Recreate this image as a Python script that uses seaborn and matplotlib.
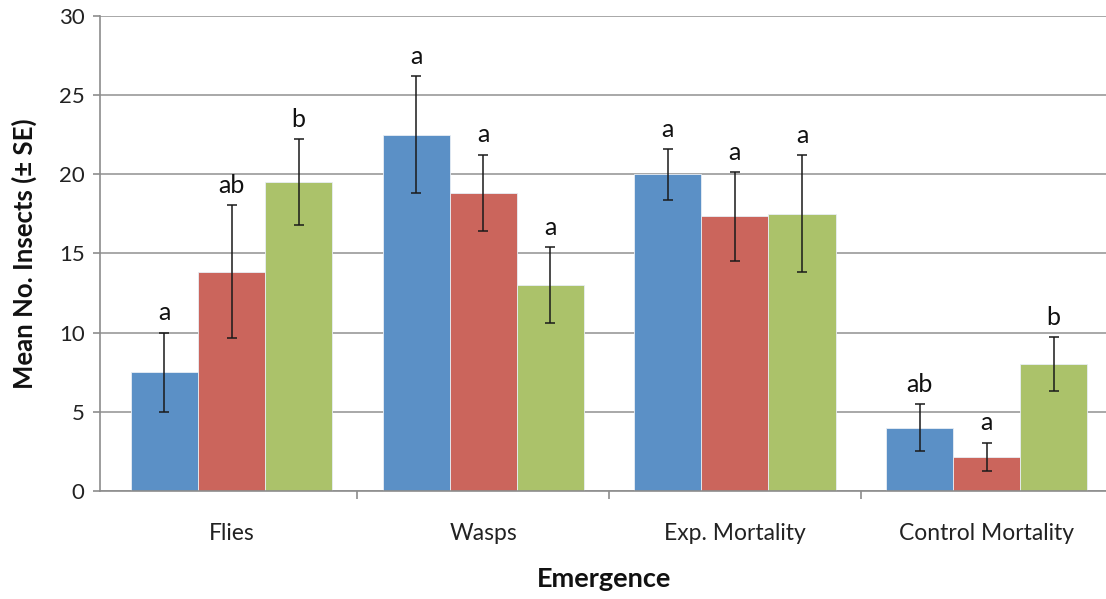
import pandas as pd
import matplotlib
matplotlib.use("Agg")
import matplotlib.pyplot as plt
import seaborn as sns

categories = ["Flies", "Wasps", "Exp. Mortality", "Control Mortality"]
series = ["Series 1", "Series 2", "Series 3"]

blue_mean = [7.5, 22.5, 20.0, 4.0]
blue_se = [2.5, 3.7, 1.6, 1.5]
red_mean = [13.85, 18.85, 17.35, 2.15]
red_se = [4.2, 2.4, 2.8, 0.9]
green_mean = [19.5, 13.0, 17.5, 8.0]
green_se = [2.7, 2.4, 3.7, 1.7]

blue_letters = ["a", "a", "a", "ab"]
red_letters = ["ab", "a", "a", "a"]
green_letters = ["b", "a", "a", "b"]

colors = ["#5B90C6", "#CB655C", "#ABC26A"]

means = [blue_mean, red_mean, green_mean]
ses = [blue_se, red_se, green_se]
letters = [blue_letters, red_letters, green_letters]

rows = []
for s, m_list, e_list in zip(series, means, ses):
    for c, m, e in zip(categories, m_list, e_list):
        rows.append({"Emergence": c, "Series": s, "Mean": m, "SE": e})
df = pd.DataFrame(rows)

sns.set_theme(style="white")
plt.rcParams["font.family"] = ["Lato", "DejaVu Sans"]

fig = plt.figure(figsize=(11.06, 5.99), dpi=100)
ax = fig.add_axes([100 / 1106, 108 / 599, 1016 / 1106, 475 / 599])

sns.barplot(data=df, x="Emergence", y="Mean", hue="Series", palette=colors,
            errorbar=None, legend=False, width=0.8, saturation=1,
            edgecolor="#E8EEF5", linewidth=0.6, ax=ax, zorder=2)

bar_containers = list(ax.containers)
for i, cont in enumerate(bar_containers):
    xs = [b.get_x() + b.get_width() / 2 for b in cont]
    ax.errorbar(xs, means[i], yerr=ses[i], fmt="none", ecolor="#1a1a1a",
                elinewidth=1.1, capsize=3.5, capthick=1.1, zorder=3)
    for x, m, e, lab in zip(xs, means[i], ses[i], letters[i]):
        ax.annotate(lab, (x, m + e), xytext=(0, 6), textcoords="offset points",
                    ha="center", va="bottom", fontsize=18, color="#111111")

ax.set_xlim(-0.5225, 3.514)
ax.set_ylim(0, 30)
ax.set_yticks(range(0, 31, 5))
ax.yaxis.grid(True, color="#A8A8A8", linewidth=1.4, zorder=0)
ax.set_axisbelow(True)

for side in ["top", "right"]:
    ax.spines[side].set_visible(False)
for side in ["left", "bottom"]:
    ax.spines[side].set_color("#8C8C8C")
    ax.spines[side].set_linewidth(1.2)

ax.tick_params(axis="y", which="major", direction="out", length=5, width=1.2,
               color="#8C8C8C", labelsize=16, labelcolor="#222222", pad=6, left=True)
ax.set_xticks(range(len(categories)))
ax.set_xticklabels(categories)
ax.set_xticks([0.5, 1.5, 2.5, 3.5], minor=True)
ax.tick_params(axis="x", which="major", length=0, labelsize=16.5,
               labelcolor="#222222", pad=23)
ax.tick_params(axis="x", which="minor", direction="out", length=6, width=1.2,
               color="#8C8C8C", bottom=True)

ax.set_ylabel("Mean No. Insects (± SE)", fontsize=18.5, fontweight="bold", color="#111111")
ax.set_xlabel("Emergence", fontsize=19.5, fontweight="bold", color="#111111")
ax.yaxis.set_label_coords(-0.062, 0.5)
ax.xaxis.set_label_coords(0.496, -0.16)

fig.savefig("out.png", dpi=100)
